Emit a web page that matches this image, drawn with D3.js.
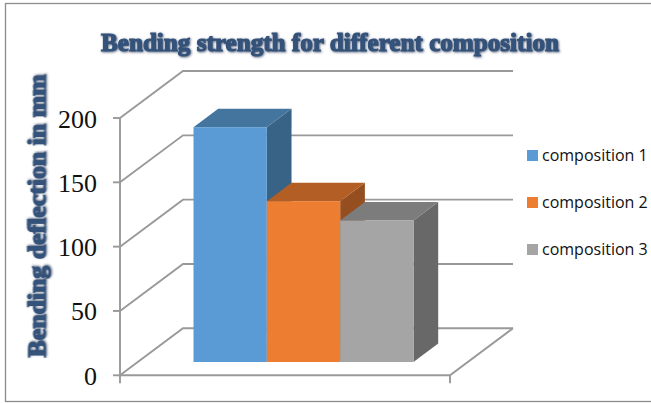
<!DOCTYPE html>
<html><head><meta charset="utf-8">
<script src="https://cdn.jsdelivr.net/npm/d3@7"></script>
<style>html,body{margin:0;padding:0;background:#fff;overflow:hidden}svg{display:block}</style>
</head><body><div id="c"></div>
<script>
const titleText = "Bending strength for different composition";
const yTitleText = "Bending deflection in mm";
const seriesNames = ["composition 1","composition 2","composition 3"];
const seriesValues = [182.5,125,110];
const yTicks = [0,50,100,150,200];
const frontColors = ["#5b9bd5","#ed7d31","#a5a5a5"];
const topColors = ["#44759f","#b25e25","#7c7c7c"];
const sideColors = ["#396287","#954e1f","#686868"];

const W=651,H=403;
const svg=d3.select("#c").append("svg").attr("width",W).attr("height",H);
const defs=svg.append("defs");
const shadow=defs.append("filter").attr("id","shadow").attr("x","-5%").attr("y","-20%").attr("width","110%").attr("height","140%");
shadow.append("feDropShadow").attr("dx",0.8).attr("dy",0.8).attr("stdDeviation",0.9).attr("flood-color","#33415a").attr("flood-opacity",0.8);

const y=d3.scaleLinear().domain([0,200]).range([375.3,118]);
const x=d3.scaleBand().domain(seriesNames).range([193.5,413.5]).padding(0);
const axisX0=120, axisX1=450, depthX=63, depthY=47;
const barDX=24.7, barDY=18.5, barBase=362;

svg.append("rect").attr("x",5.5).attr("y",3.5).attr("width",W+10).attr("height",398)
  .attr("fill","#fff").attr("stroke","#8c8c8c").attr("stroke-width",1.3);

const grid="#999999";
const g=svg.append("g").attr("fill","none").attr("stroke",grid).attr("stroke-width",1.9);
yTicks.forEach(t=>{
  g.append("path").attr("d",d3.line()([[axisX0,y(t)],[axisX0+depthX,y(t)-depthY],[axisX1+depthX,y(t)-depthY]]));
  g.append("path").attr("d",d3.line()([[axisX0-7,y(t)],[axisX0,y(t)]]));
});
g.append("path").attr("d",d3.line()([[axisX0,y(200)],[axisX0,y(0)+8]]));
g.append("path").attr("d",d3.line()([[axisX0,y(0)],[axisX1,y(0)],[axisX1+depthX,y(0)-depthY]]));
g.append("path").attr("d",d3.line()([[axisX1,y(0)],[axisX1,y(0)+8]]));

const yBar=v=>barBase-(y(0)-y(v));
const bars=svg.append("g");
seriesNames.forEach((n,i)=>{
  const x0=x(n),x1=x0+x.bandwidth(),t=yBar(seriesValues[i]);
  bars.append("polygon").attr("fill",sideColors[i])
    .attr("points",[[x1,t],[x1+barDX,t-barDY],[x1+barDX,barBase-barDY],[x1,barBase]].join(" "));
  bars.append("polygon").attr("fill",topColors[i])
    .attr("points",[[x0,t],[x0+barDX,t-barDY],[x1+barDX,t-barDY],[x1,t]].join(" "));
  bars.append("rect").attr("fill",frontColors[i]).attr("x",x0).attr("y",t).attr("width",x.bandwidth()).attr("height",barBase-t);
});

svg.append("g").selectAll("text").data(yTicks).join("text")
  .attr("x",97).attr("y",d=>y(d)+9.5).attr("text-anchor","end")
  .attr("font-family","Liberation Serif").attr("font-size",26).attr("fill","#111")
  .text(d=>d);

const heading={ "font-family":"Liberation Serif","font-weight":"bold","fill":"#34527a","stroke":"#34527a","stroke-width":1.2,"lengthAdjust":"spacingAndGlyphs" };
const tt=svg.append("text").attr("x",330).attr("y",51).attr("text-anchor","middle").attr("font-size",25.5)
  .attr("textLength",458).attr("filter","url(#shadow)").text(titleText);
const yt=svg.append("text").attr("transform","translate(45.5,216) rotate(-90)").attr("text-anchor","middle").attr("font-size",25.5)
  .attr("textLength",283).attr("filter","url(#shadow)").text(yTitleText);
[tt,yt].forEach(s=>Object.entries(heading).forEach(([k,v])=>s.attr(k,v)));

const legendY=[155.5,202.5,249.5];
const lg=svg.append("g");
seriesNames.forEach((n,i)=>{
  lg.append("rect").attr("x",527).attr("y",legendY[i]-5.5).attr("width",11).attr("height",11).attr("fill",frontColors[i]);
  lg.append("text").attr("x",542).attr("y",legendY[i]+5.5).attr("font-family","Open Sans").attr("font-size",16).attr("fill","#111").text(n);
});
</script></body></html>
